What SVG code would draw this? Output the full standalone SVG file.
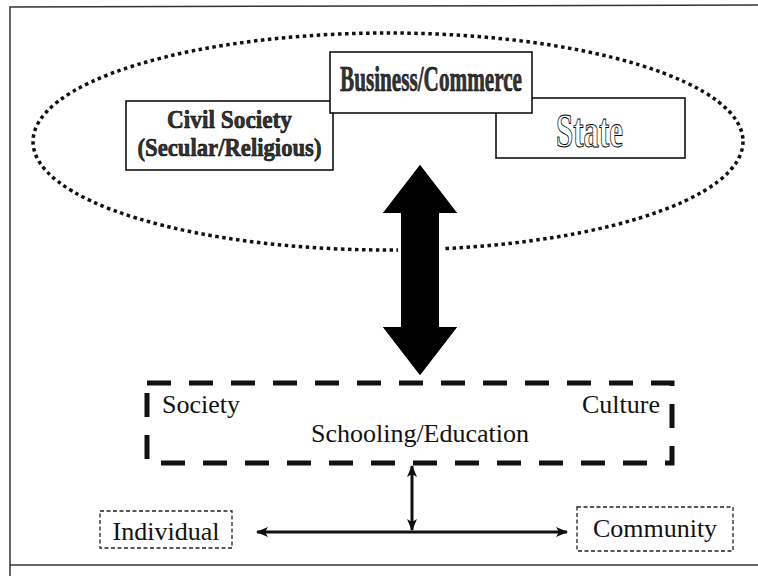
<svg xmlns="http://www.w3.org/2000/svg" width="758" height="576" viewBox="0 0 758 576">
  <style>
    .frame { fill: none; stroke: #333; stroke-width: 1.5; }
    .box { fill: #fff; stroke: #111; stroke-width: 1.6; }
    .thinbox { fill: #fff; stroke: #222; stroke-width: 1.3; stroke-dasharray: 4 2.5; }
    .outline { font-family: "Liberation Serif", "Times New Roman", serif; font-weight: bold; fill: #fff; stroke: #000; stroke-width: 1; }
    .dark { font-family: "Liberation Serif", "Times New Roman", serif; font-weight: bold; fill: #333; stroke: #000; stroke-width: 0.6; }
    .label { font-family: "Liberation Serif", "Times New Roman", serif; font-size: 26px; fill: #111; }
    .conn { fill: none; stroke: #111; stroke-width: 3; }
  </style>
  <defs>
    <marker id="head" viewBox="0 0 12 10" refX="11" refY="5" markerWidth="12" markerHeight="10" markerUnits="userSpaceOnUse" orient="auto-start-reverse">
      <path d="M0,0 L12,5 L0,10 L3,5 Z" fill="#111"/>
    </marker>
  </defs>

  <rect width="758" height="576" fill="#fff"/>

  <!-- page frame (top, left, bottom) -->
  <path class="frame" d="M758,5 L10,7 L10,576 M10,565 L758,565"/>

  <!-- dotted ellipse grouping the three sectors -->
  <ellipse id="sectors" cx="388" cy="141.5" rx="355" ry="108.5" fill="none" stroke="#111" stroke-width="3.5" stroke-dasharray="3.5 3.5"/>

  <g id="civil-society">
    <rect class="box" x="126" y="101" width="207" height="69"/>
    <text class="dark" x="229.5" y="128" font-size="26" text-anchor="middle" textLength="125" lengthAdjust="spacingAndGlyphs">Civil Society</text>
    <text class="dark" x="229.5" y="156" font-size="26" text-anchor="middle" textLength="184" lengthAdjust="spacingAndGlyphs">(Secular/Religious)</text>
  </g>

  <g id="state">
    <rect class="box" x="496" y="98" width="189" height="60"/>
    <text class="outline" x="589.5" y="147" font-size="48" text-anchor="middle" textLength="67" lengthAdjust="spacingAndGlyphs">State</text>
  </g>

  <g id="business-commerce">
    <rect class="box" x="330" y="52" width="202" height="61"/>
    <text class="dark" x="431" y="91" font-size="36" text-anchor="middle" textLength="182" lengthAdjust="spacingAndGlyphs">Business/Commerce</text>
  </g>

  <g id="schooling">
    <rect x="147" y="383" width="525" height="80" fill="none" stroke="#111" stroke-width="5" stroke-dasharray="24 18"/>
    <text class="label" x="162" y="413">Society</text>
    <text class="label" x="660" y="413" text-anchor="end">Culture</text>
    <text class="label" x="420" y="442" text-anchor="middle">Schooling/Education</text>
  </g>

  <g id="individual">
    <rect class="thinbox" x="100" y="511" width="132" height="37"/>
    <text class="label" x="166" y="540" text-anchor="middle">Individual</text>
  </g>

  <g id="community">
    <rect class="thinbox" x="577" y="507" width="156" height="44"/>
    <text class="label" x="655" y="537" text-anchor="middle">Community</text>
  </g>

  <g id="connectors">
    <!-- broad two-way arrow between sectors and schooling -->
    <path d="M420,165 L457,213 L439,213 L439,327 L457,327 L420,375 L383,327 L401,327 L401,213 L383,213 Z" fill="#000" stroke="#fff" stroke-width="6" paint-order="stroke" stroke-linejoin="miter"/>
    <path d="M420,165 L457,213 L439,213 L439,327 L457,327 L420,375 L383,327 L401,327 L401,213 L383,213 Z" fill="#000"/>
    <!-- schooling to the individual/community axis -->
    <line class="conn" x1="412" y1="466" x2="412" y2="530" marker-start="url(#head)" marker-end="url(#head)"/>
    <!-- individual to community -->
    <line class="conn" x1="257" y1="532" x2="567" y2="532" marker-start="url(#head)" marker-end="url(#head)"/>
  </g>
</svg>
